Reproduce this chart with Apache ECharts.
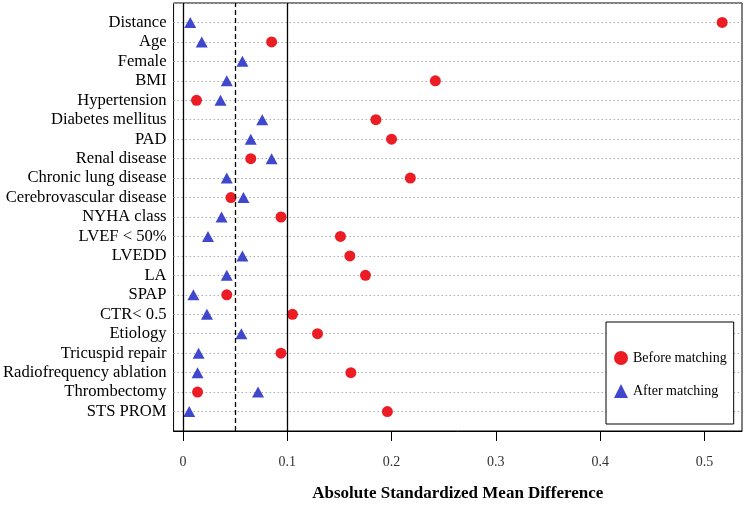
<!DOCTYPE html>
<html>
<head>
<meta charset="utf-8">
<script src="https://cdn.jsdelivr.net/npm/echarts@6/dist/echarts.min.js"></script>
<style>html,body{margin:0;padding:0;background:#fff}#c{width:746px;height:507px}</style>
</head>
<body>
<div id="c"></div>
<script>
var categories = ["Distance","Age","Female","BMI","Hypertension","Diabetes mellitus","PAD","Renal disease","Chronic lung disease","Cerebrovascular disease","NYHA class","LVEF < 50%","LVEDD","LA","SPAP","CTR< 0.5","Etiology","Tricuspid repair","Radiofrequency ablation","Thrombectomy","STS PROM"];
var beforeMatching = [0.517,0.085,null,0.242,0.013,0.185,0.200,0.065,0.218,0.046,0.094,0.151,0.160,0.175,0.042,0.105,0.129,0.094,0.161,0.014,0.196];
var afterMatching = [0.007,0.018,0.057,0.042,0.036,0.076,0.065,0.085,0.042,0.058,0.037,0.024,0.057,0.042,0.010,0.023,0.056,0.015,0.014,0.072,0.006];
var xTicks = [0,0.1,0.2,0.3,0.4,0.5];
var refLines = [0,0.05,0.1];

var n = categories.length;
function pts(arr){ return arr.map(function(v,i){ return v==null?null:[v, n-1-i]; }).filter(function(d){return d;}); }
var serif = '"Liberation Serif","Times New Roman",serif';
var chart = echarts.init(document.getElementById('c'), null, {renderer:'canvas'});
chart.setOption({
  animation:false,
  backgroundColor:'#fff',
  grid:{left:173,right:4,top:3,bottom:76,show:true,borderColor:'#000',borderWidth:1,backgroundColor:'transparent'},
  xAxis:{
    type:'value', min:-0.009, max:0.536,
    name:'Absolute Standardized Mean Difference', nameLocation:'middle', nameGap:54,
    nameTextStyle:{fontFamily:serif,fontWeight:'bold',fontSize:17,color:'#000'},
    axisLine:{show:true,onZero:false,lineStyle:{color:'#000',width:1}},
    axisTick:{show:true,length:10,lineStyle:{color:'#000',width:1},customValues:xTicks},
    axisLabel:{margin:24,fontFamily:serif,fontSize:14,color:'#333',customValues:xTicks,formatter:function(v){return String(v);}},
    splitLine:{show:false}
  },
  yAxis:{
    type:'value', min:-1, max:n, interval:1,
    axisLine:{show:false,onZero:false}, axisTick:{show:false},
    axisLabel:{margin:7,fontFamily:serif,fontSize:16.6,color:'#000',
      formatter:function(v){ var i=n-1-v; return (i>=0&&i<n)?categories[i]:''; }},
    splitLine:{show:true,lineStyle:{color:'#aaa',type:[1.5,2.5],width:1}}
  },
  legend:{
    orient:'vertical', left:606, top:322,
    padding:[29,7,26,8], itemGap:19, itemWidth:14, itemHeight:14,
    borderColor:'#000', borderWidth:1, backgroundColor:'#fff',
    textStyle:{fontFamily:serif,fontSize:14,color:'#000'},
    data:[{name:'Before matching',icon:'circle'},{name:'After matching',icon:'triangle'}]
  },
  series:[
    {name:'Before matching',type:'scatter',symbol:'circle',symbolSize:11,
     itemStyle:{color:'#ec1c24',opacity:1},data:pts(beforeMatching),z:3,
     markLine:{silent:true,symbol:'none',label:{show:false},animation:false,
       data:refLines.map(function(v){return {xAxis:v,lineStyle:{color:'#000',width:1.3,type:v===0.05?[5,3]:'solid'}};})}},
    {name:'After matching',type:'scatter',symbol:'triangle',symbolSize:[12,11],
     itemStyle:{color:'#3f48cc',opacity:1},data:pts(afterMatching),z:4}
  ]
});
</script>
</body>
</html>
